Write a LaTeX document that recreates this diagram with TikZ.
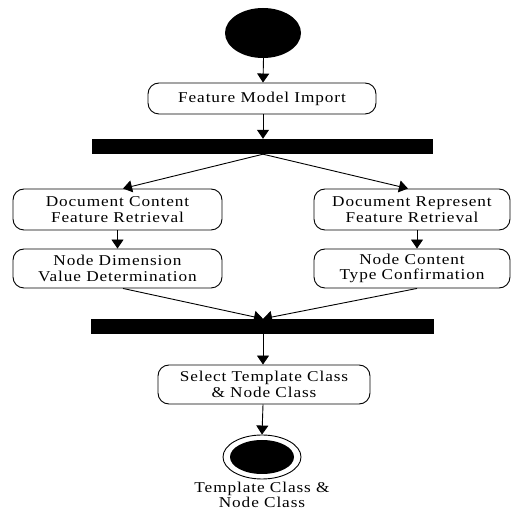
\documentclass[tikz,border=0pt]{standalone}
\usepackage{fontspec}
\setmainfont{Liberation Serif}[FakeStretch=1.15,LetterSpace=6]
\usetikzlibrary{arrows.meta,calc,shapes.geometric}
\begin{document}
\begin{tikzpicture}[x=1pt,y=-1pt,
  every node/.style={font=\fontsize{15}{15.5}\selectfont},
  act/.style={draw,line width=0.9pt,rounded corners=11pt,align=center,inner sep=0pt},
  bar/.style={fill=black,draw=none,inner sep=0pt,minimum height=15pt},
  arr/.style={line width=0.9pt,-{Triangle[width=12pt,length=9pt]}},
  ln/.style={line width=0.9pt}]
\useasboundingbox (0,0) rectangle (512,510);
\node[ellipse,fill=black,minimum width=76pt,minimum height=50pt,inner sep=0pt] (start) at (263,33) {};
\node[act,minimum width=228pt,minimum height=31pt] (fmi) at (262,98.5) {Feature Model Import};
\node[bar,minimum width=341pt] (bar1) at (262.5,146.5) {};
\node[act,minimum width=209pt,minimum height=41pt] (dcf) at (117.5,209.5) {Document Content\\Feature Retrieval};
\node[act,minimum width=196pt,minimum height=41pt] (drf) at (412,209.5) {Document Represent\\Feature Retrieval};
\node[act,minimum width=209pt,minimum height=39pt] (ndv) at (117.5,268.5) {Node Dimension\\Value Determination};
\node[act,minimum width=196pt,minimum height=39pt] (nct) at (412,268.5) {Node Content\\Type Confirmation};
\node[bar,minimum width=343pt] (bar2) at (262.5,326.5) {};
\node[act,minimum width=212pt,minimum height=39pt] (stc) at (264,384.5) {Select Template Class\\\& Node Class};
\node[ellipse,draw,line width=0.9pt,minimum width=78pt,minimum height=44pt,inner sep=0pt] (end) at (262,457) {};
\node[ellipse,fill=black,minimum width=64pt,minimum height=34pt,inner sep=0pt] (endin) at (end.center) {};
\node[align=center,inner sep=0pt,font=\fontsize{15}{13.5}\selectfont] (lbl) at (262,495) {Template Class \&\\Node Class};
\draw[arr] ($(start.south)+(0.5,0)$) -- ($(fmi.north)+(1,0)$);
\draw[arr] ($(fmi.south)+(1,0)$) -- ($(bar1.north)+(0.5,0)$);
\draw[arr] ($(bar1.south)+(0.5,0)$) -- ($(dcf.north)+(5.5,0)$);
\draw[arr] ($(bar1.south)+(0.5,0)$) -- ($(drf.north)+(-4,0)$);
\draw[arr] (dcf.south) -- (ndv.north);
\draw[arr] ($(drf.south)+(5,0)$) -- ($(nct.north)+(5,0)$);
\draw[arr] ($(ndv.south)+(5.5,0)$) -- ($(bar2.north)+(0.5,0)$);
\draw[arr] ($(nct.south)+(5,0)$) -- ($(bar2.north)+(0.5,0)$);
\draw[arr] ($(bar2.south)+(0.5,0)$) -- ($(stc.north)+(-1,0)$);
\draw[arr] ($(stc.south)+(-1,0)$) -- (end.north);
\end{tikzpicture}
\end{document}
